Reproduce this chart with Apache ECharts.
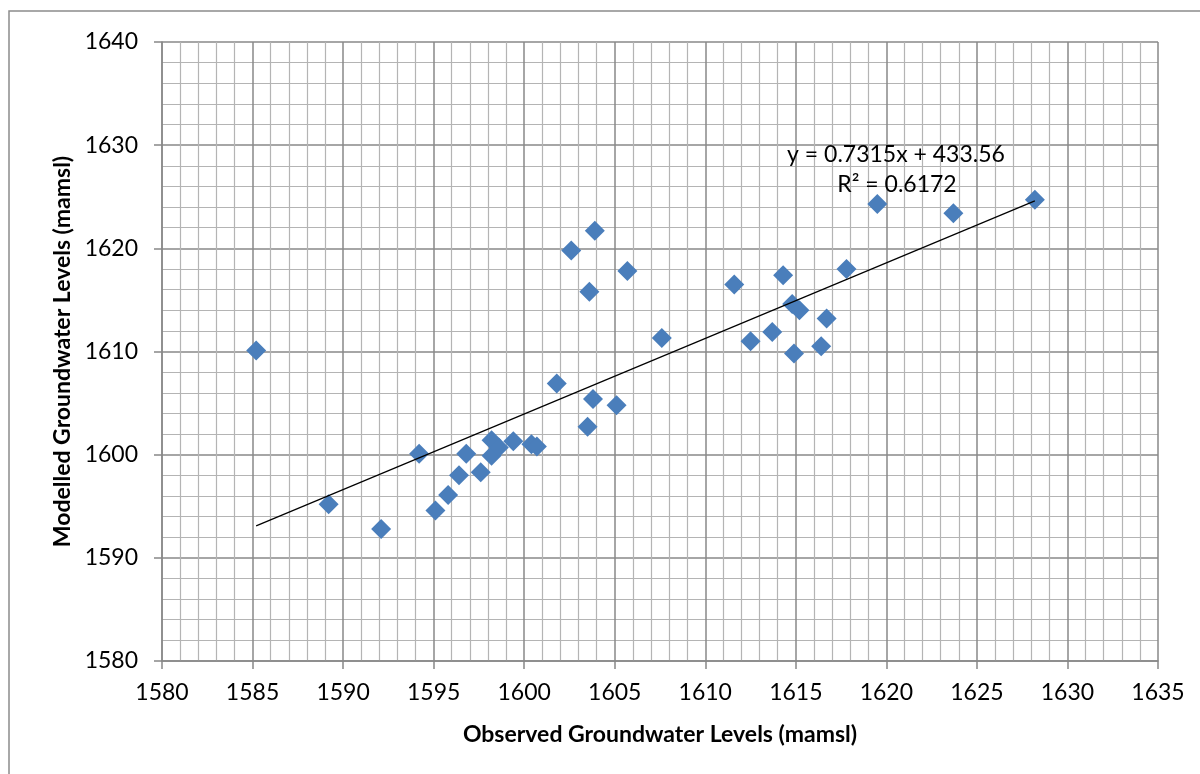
<!DOCTYPE html>
<html>
<head>
<meta charset="utf-8">
<script src="https://cdn.jsdelivr.net/npm/echarts@6/dist/echarts.min.js"></script>
<style>
  html, body { margin: 0; padding: 0; background: #fff; }
  #chart { width: 1200px; height: 774px; }
</style>
</head>
<body>
<div id="chart"></div>
<script>
// Observed (x) and modelled (y) groundwater levels, mamsl
const observed = [
  1585.2, 1589.2, 1592.1, 1594.2, 1595.1, 1595.8, 1596.4, 1596.8, 1597.6,
  1598.2, 1598.2, 1598.6, 1599.4, 1600.4, 1600.7, 1601.8, 1603.5, 1603.8,
  1605.1, 1602.6, 1603.9, 1603.6, 1605.7, 1607.6, 1611.6, 1612.5, 1613.7,
  1614.3, 1614.8, 1615.2, 1614.9, 1616.4, 1616.7, 1617.8, 1619.5, 1623.7,
  1628.2
];
const modelled = [
  1610.1, 1595.2, 1592.8, 1600.1, 1594.6, 1596.1, 1598.0, 1600.1, 1598.3,
  1601.4, 1599.9, 1600.7, 1601.3, 1601.0, 1600.8, 1606.9, 1602.7, 1605.4,
  1604.8, 1619.8, 1621.7, 1615.8, 1617.8, 1611.3, 1616.5, 1611.0, 1611.9,
  1617.4, 1614.6, 1614.0, 1609.8, 1610.5, 1613.2, 1618.0, 1624.3, 1623.4,
  1624.7
];
// Linear trendline end points (y = 0.7315x + 433.56)
const trendX = [1585.2, 1628.2];
const trendY = [1593.1, 1624.6];
const equationText = 'y = 0.7315x + 433.56';
const r2Text = 'R² = 0.6172';
const xTitle = 'Observed Groundwater Levels (mamsl)';
const yTitle = 'Modelled Groundwater Levels (mamsl)';

const points = observed.map((x, i) => [x, modelled[i]]);
const trend = trendX.map((x, i) => [x, trendY[i]]);

const FONT = 'Lato, "Open Sans", sans-serif';
const chart = echarts.init(document.getElementById('chart'), null, { renderer: 'canvas' });

const axisCommon = {
  type: 'value',
  axisLine: { show: true, lineStyle: { color: '#888', width: 1.5 } },
  axisTick: { show: true, length: 8, inside: false, lineStyle: { color: '#888', width: 1.5 } },
  splitLine: { show: true, lineStyle: { color: '#888', width: 1.5 } },
  minorTick: { show: false, splitNumber: 5 },
  minorSplitLine: { show: true, lineStyle: { color: '#b4b4b4', width: 1.2 } },
  axisLabel: { color: '#000', fontFamily: FONT, fontSize: 23, formatter: v => String(v) }
};

chart.setOption({
  animation: false,
  backgroundColor: '#fff',
  grid: { left: 162, right: 42, top: 42, bottom: 113, containLabel: false },
  xAxis: Object.assign({}, axisCommon, {
    min: 1580, max: 1635, interval: 5,
    axisLabel: Object.assign({}, axisCommon.axisLabel, { margin: 20 }),
    name: xTitle,
    nameLocation: 'middle',
    nameGap: 62,
    nameTextStyle: { color: '#000', fontFamily: FONT, fontSize: 23, fontWeight: 'bold' }
  }),
  yAxis: Object.assign({}, axisCommon, {
    min: 1580, max: 1640, interval: 10,
    axisLabel: Object.assign({}, axisCommon.axisLabel, { margin: 24 }),
    name: yTitle,
    nameLocation: 'middle',
    nameGap: 88,
    nameRotate: 90,
    nameTextStyle: { color: '#000', fontFamily: FONT, fontSize: 23, fontWeight: 'bold' }
  }),
  series: [
    {
      type: 'scatter',
      data: points,
      symbol: 'diamond',
      symbolSize: 20,
      itemStyle: { color: '#4a7ebb', opacity: 1 },
      z: 3
    },
    {
      type: 'line',
      data: trend,
      symbol: 'none',
      lineStyle: { color: '#000', width: 1.2 },
      z: 4
    }
  ],
  graphic: [
    {
      type: 'rect',
      shape: { x: 9, y: 11, width: 1300, height: 900 },
      style: { fill: 'none', stroke: '#8c8c8c', lineWidth: 1.5 },
      silent: true, z: 0
    },
    {
      type: 'text', x: 896, y: 155,
      style: { text: equationText, fill: '#000', font: '23px ' + FONT, textAlign: 'center', textVerticalAlign: 'middle' },
      z: 10
    },
    {
      type: 'text', x: 897, y: 185,
      style: { text: r2Text, fill: '#000', font: '23px ' + FONT, textAlign: 'center', textVerticalAlign: 'middle' },
      z: 10
    }
  ]
});
</script>
</body>
</html>
